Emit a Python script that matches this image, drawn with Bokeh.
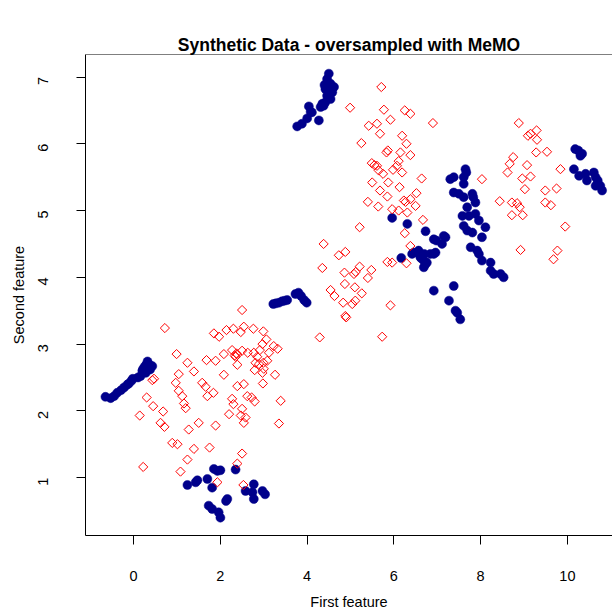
import math
from bokeh.plotting import figure
from bokeh.models import Range1d, FixedTicker, Span
from bokeh.embed import file_html
from bokeh.resources import INLINE

# Original samples (filled dark-blue circles)
orig_x = [-0.65, -0.53, -0.45, -0.38, -0.29, -0.22, -0.15, -0.11, -0.05, -0.02, 0.10, 0.16, 0.20, 0.22, 0.26, 0.32, 0.35, 0.43, 0.28, 0.30, 0.38,
          1.24, 1.43, 1.47, 1.70, 1.81, 1.85, 1.93, 2.00, 1.73, 1.81, 1.96, 2.00, 2.13, 2.16, 2.35, 2.58, 2.74, 2.77, 2.77, 2.97, 3.03,
          3.22, 3.28, 3.35, 3.42, 3.48, 3.54, 3.73, 3.80, 3.86, 3.93, 3.99,
          3.77, 3.88, 4.00, 4.08, 4.11, 4.04, 4.27, 4.31, 4.38, 4.35, 4.46, 4.42, 4.40, 4.46, 4.50, 4.54, 4.62, 4.58, 4.54, 4.42, 4.50,
          5.96, 6.31, 6.17, 6.42, 6.46, 6.57, 6.61, 6.69, 6.73, 6.69, 6.76, 6.84, 6.92, 6.96, 6.73, 6.92, 6.98, 7.15, 7.19, 7.11, 6.64, 6.70,
          6.92, 7.38, 7.27, 7.42, 7.46, 7.53,
          7.30, 7.38, 7.65, 7.67, 7.61, 7.61, 7.38, 7.50, 7.61, 7.81, 7.83, 7.88, 7.69, 7.58, 7.73, 7.88, 7.96, 7.61, 7.69, 7.81, 8.11,
          8.03, 7.77, 7.92, 7.96, 8.03, 8.23, 8.23, 8.30, 8.46, 8.53,
          10.18, 10.25, 10.34, 10.30, 10.15, 10.27, 10.42, 10.45, 10.61, 10.65, 10.70, 10.65, 10.76, 10.80]
orig_y = [2.21, 2.19, 2.22, 2.27, 2.31, 2.35, 2.39, 2.41, 2.45, 2.48, 2.50, 2.52, 2.60, 2.63, 2.67, 2.74, 2.70, 2.67, 2.57, 2.70, 2.62,
          0.89, 0.93, 0.96, 0.98, 0.85, 1.13, 1.10, 1.11, 0.58, 0.53, 0.48, 0.40, 0.65, 0.68, 1.12, 0.80, 0.78, 0.90, 0.68, 0.80, 0.75,
          3.60, 3.61, 3.62, 3.64, 3.65, 3.66, 3.75, 3.77, 3.72, 3.66, 3.62,
          6.26, 6.30, 6.38, 6.48, 6.47, 6.56, 6.35, 6.55, 6.57, 6.60, 6.72, 6.82, 6.88, 6.97, 7.05, 6.90, 6.85, 6.77, 6.67, 6.62, 6.78,
          4.89, 4.80, 4.29, 4.35, 4.37, 4.40, 4.30, 4.25, 4.20, 4.15, 4.22, 4.35, 4.35, 4.37, 4.69, 4.57, 4.55, 4.62, 4.60, 4.50, 4.28, 4.35,
          3.80, 3.87, 3.65, 3.50, 3.47, 3.37,
          5.47, 5.50, 5.62, 5.57, 5.50, 5.40, 5.27, 5.25, 5.20, 5.25, 5.20, 5.12, 5.05, 4.92, 4.92, 4.95, 4.85, 4.77, 4.70, 4.67, 4.75,
          4.60, 4.45, 4.40, 4.35, 4.25, 4.22, 4.10, 4.05, 4.05, 4.00,
          5.92, 5.90, 5.85, 5.82, 5.62, 5.52, 5.55, 5.45, 5.57, 5.50, 5.45, 5.37, 5.37, 5.30]

# Synthetic samples (open red diamonds)
syn_x = [0.72, 2.50, 1.85, 1.97, 2.14, 2.30, 2.47, 2.54, 2.76, 2.99, 3.06, 2.97, 2.91, 2.77, 2.85, 2.63, 2.50, 2.39, 2.35, 2.27,
         2.08, 1.89, 1.68, 1.39, 1.24, 0.99, 1.04, 0.97, 1.04, 1.12, 1.16, 1.20, 1.58, 1.66, 1.70, 1.84, 2.08, 2.39, 2.81, 2.89,
         2.99, 3.08, 3.00, 2.79, 2.97, 3.26, 3.23, 3.32, 3.12, 2.98, 2.39, 2.54, 2.62, 2.72, 2.79, 2.27, 2.30, 2.50, 2.20, 2.47,
         2.58, 2.54, 3.39, 3.35, 1.89, 1.50, 1.27, 0.89, 1.01, 1.39, 1.75, 1.24, 1.08, 2.50, 2.39, 2.53, 1.93, 0.22, 0.14, 0.30,
         0.43, 0.47, 0.45, 0.68, 0.62, 0.71, 2.37, 2.33,
         4.38, 4.35, 4.73, 4.88, 4.86, 5.08, 5.12, 5.21, 5.48, 5.40, 4.54, 4.63, 4.87, 5.10, 5.26, 4.83, 5.04, 5.11, 4.88, 4.90,
         5.92, 4.29, 5.73, 5.85, 5.96, 6.29, 5.21,
         5.71, 4.99, 5.77, 6.25, 6.38, 5.92, 5.42, 5.61, 6.90, 5.68, 6.19, 6.29, 5.25, 5.83, 5.86, 6.15, 6.38, 5.49, 5.55, 5.61,
         5.65, 5.75, 5.98, 6.07, 6.11, 6.19, 6.64, 5.50, 5.87, 5.68, 6.13, 5.85, 5.40, 5.64, 6.52, 6.23, 6.27, 6.38, 6.50, 5.96,
         6.11, 6.31, 6.67, 6.25, 6.38,
         8.88, 9.09, 9.15, 9.29, 9.30, 9.28, 9.53, 9.84, 8.75, 8.67, 8.62, 9.07, 8.96, 9.15, 9.02, 8.03, 9.49, 9.75, 8.44, 8.72,
         8.84, 8.90, 8.72, 8.97, 9.49, 9.62, 9.95, 8.92, 9.77, 9.68]
syn_y = [3.24, 3.51, 3.16, 3.11, 3.21, 3.23, 3.18, 3.26, 3.23, 3.19, 3.07, 3.00, 2.91, 2.87, 2.81, 2.87, 2.90, 2.84, 2.81, 2.91,
         2.85, 2.75, 2.76, 2.59, 2.72, 2.85, 2.55, 2.42, 2.30, 2.22, 2.11, 2.04, 2.42, 2.36, 2.22, 2.27, 2.54, 2.69, 2.72, 2.70,
         2.72, 2.75, 2.63, 2.61, 2.57, 2.54, 2.97, 2.93, 2.87, 2.41, 2.37, 2.40, 2.22, 2.20, 2.14, 2.18, 2.10, 2.03, 1.95, 1.93,
         1.90, 1.82, 2.15, 1.81, 1.78, 1.82, 1.72, 1.52, 1.50, 1.43, 1.45, 1.27, 1.09, 1.36, 1.21, 0.89, 0.93, 1.16, 1.93, 2.20,
         2.46, 2.48, 2.07, 1.99, 1.82, 1.76, 2.86, 2.83,
         4.50, 4.14, 4.33, 4.38, 4.07, 4.05, 4.08, 4.16, 4.11, 3.99, 3.81, 3.72, 3.90, 3.85, 3.76, 3.62, 3.60, 3.65, 3.42, 3.40,
         3.58, 3.10, 3.11, 4.23, 4.22, 4.21, 4.75,
         6.85, 6.54, 6.51, 6.50, 6.45, 6.36, 6.27, 6.30, 6.31, 6.15, 6.12, 6.00, 6.01, 5.87, 5.90, 5.87, 5.83, 5.71, 5.68, 5.67,
         5.60, 5.55, 5.61, 5.67, 5.74, 5.57, 5.48, 5.42, 5.42, 5.30, 5.35, 5.21, 5.13, 5.06, 5.26, 5.15, 5.13, 5.17, 5.07, 5.02,
         5.00, 4.97, 4.86, 4.66, 4.47,
         6.31, 6.12, 6.15, 6.20, 6.06, 5.87, 5.88, 5.62, 5.80, 5.70, 5.57, 5.68, 5.48, 5.51, 5.32, 5.47, 5.30, 5.33, 5.14, 5.12,
         5.11, 5.05, 4.93, 4.93, 5.12, 5.08, 4.76, 4.41, 4.40, 4.27]

x_ticks = [0, 2, 4, 6, 8, 10]
y_ticks = [1, 2, 3, 4, 5, 6, 7]

FONT = "Liberation Sans"
X0, X1 = -1.11, 11.04
Y0, Y1 = 0.133, 7.337

p = figure(width=612, height=615, output_backend="svg", toolbar_location=None,
           x_range=Range1d(X0, X1), y_range=Range1d(Y0, Y1),
           min_border_left=85, min_border_right=0, min_border_top=54, min_border_bottom=80,
           title="Synthetic Data - oversampled with MeMO")
p.outline_line_color = None
p.background_fill_color = "white"
p.border_fill_color = "white"
p.xgrid.visible = False
p.ygrid.visible = False

p.title.text_font = FONT
p.title.text_font_size = "17.5px"
p.title.text_font_style = "bold"
p.title.text_color = "black"
p.title.align = "center"
p.title.offset = 7
p.title.standoff = 0

for ax, ticks in ((p.xaxis[0], x_ticks), (p.yaxis[0], y_ticks)):
    ax.ticker = FixedTicker(ticks=ticks)
    ax.major_tick_in = 0
    ax.major_tick_out = 9
    ax.minor_tick_out = 0
    ax.minor_tick_in = 0
    ax.axis_line_color = "black"
    ax.major_tick_line_color = "black"
    ax.major_label_text_font = FONT
    ax.major_label_text_font_size = "14.5px"
    ax.major_label_text_color = "black"
    ax.axis_label_text_font = FONT
    ax.axis_label_text_font_size = "14.5px"
    ax.axis_label_text_font_style = "normal"
    ax.axis_label_text_color = "black"

p.xaxis.major_label_standoff = 26
p.yaxis.major_label_standoff = 33
p.xaxis.axis_label = "First feature"
p.yaxis.axis_label = "Second feature"
p.xaxis.axis_label_standoff = 10
p.yaxis.axis_label_standoff = 4
p.yaxis.major_label_orientation = math.pi / 2

p.add_layout(Span(location=Y1, dimension="width", line_color="black", line_width=1))

p.scatter(orig_x, orig_y, marker="circle", size=9, fill_color="#00008B", line_color="#00008B", line_width=0.5)
p.scatter(syn_x, syn_y, marker="square", size=6.5, angle=math.pi / 4,
          fill_color=None, line_color="red", line_width=1)

open("out.html", "w").write(file_html(p, INLINE))
